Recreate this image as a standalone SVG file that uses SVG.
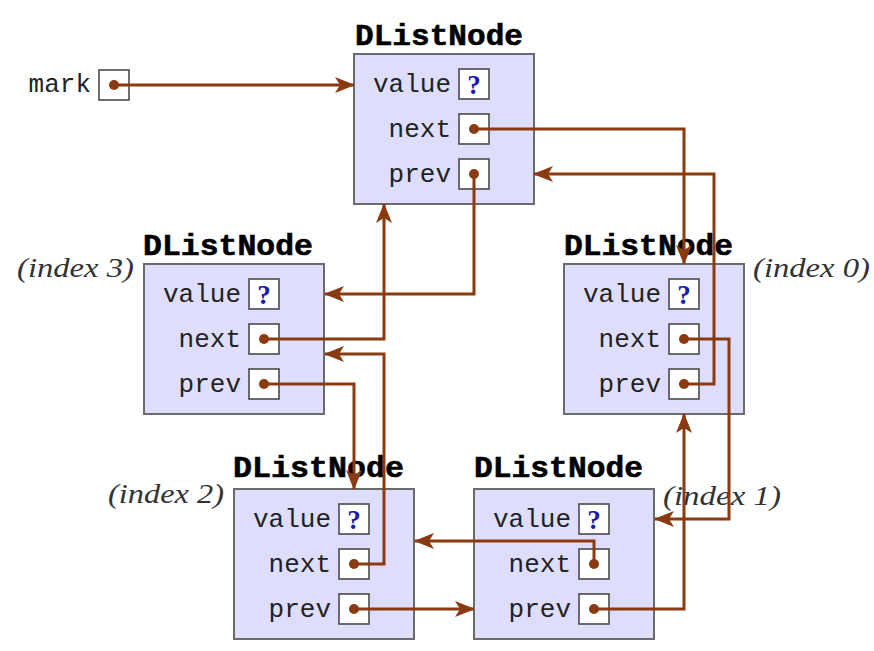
<svg xmlns="http://www.w3.org/2000/svg" width="874" height="651" viewBox="0 0 874 651">
  <style>
    .box { fill: #dedefc; stroke: #6b6b6b; stroke-width: 2; }
    .cell { fill: #ffffff; stroke: #4a4a4a; stroke-width: 1.6; }
    .title { font-family: "Liberation Mono", "DejaVu Sans Mono", monospace; font-weight: bold; font-size: 30px; fill: #000; stroke: #000; stroke-width: 0.6; }
    .field { font-family: "Liberation Mono", "DejaVu Sans Mono", monospace; font-size: 26px; fill: #222; text-anchor: end; }
    .q { font-family: "Liberation Serif", "DejaVu Serif", serif; font-weight: bold; font-size: 27px; fill: #1a1ab0; text-anchor: middle; }
    .idx { font-family: "Liberation Serif", "DejaVu Serif", serif; font-style: italic; font-size: 27px; fill: #333; }
    .dot { fill: #8a3a10; }
    .link { fill: none; stroke: #8a3a10; stroke-width: 3; stroke-linejoin: miter; marker-end: url(#head); }
  </style>
  <defs>
    <marker id="head" viewBox="0 0 20 16" refX="19" refY="8" markerWidth="20" markerHeight="16" markerUnits="userSpaceOnUse" orient="auto">
      <path d="M0,0 L20,8 L0,16 L5,8 Z" fill="#8a3a10"/>
    </marker>
    <!-- one list node: box with value / next / prev fields -->
    <g id="nodeBody">
      <rect class="box" x="0" y="0" width="180" height="150"/>
      <text class="field" x="97" y="38">value</text>
      <text class="field" x="97" y="83">next</text>
      <text class="field" x="97" y="128">prev</text>
      <rect class="cell" x="105" y="15" width="30" height="30"/>
      <rect class="cell" x="105" y="60" width="30" height="30"/>
      <rect class="cell" x="105" y="105" width="30" height="30"/>
      <text class="q" x="120" y="40">?</text>
      <circle class="dot" cx="120" cy="75" r="5"/>
      <circle class="dot" cx="120" cy="120" r="5"/>
    </g>
  </defs>

  <rect width="874" height="651" fill="#ffffff"/>

  <!-- mark reference -->
  <g id="mark">
    <text class="field" x="91" y="92">mark</text>
    <rect class="cell" x="99" y="70" width="30" height="30"/>
    <circle class="dot" cx="114" cy="85" r="5"/>
  </g>

  <g id="nodeTop">
    <text class="title" x="355" y="45" textLength="168" lengthAdjust="spacingAndGlyphs">DListNode</text>
    <use href="#nodeBody" x="354" y="54"/>
  </g>

  <g id="node3">
    <text class="title" x="143" y="255" textLength="170" lengthAdjust="spacingAndGlyphs">DListNode</text>
    <text class="idx" x="17" y="277" textLength="117" lengthAdjust="spacingAndGlyphs">(index 3)</text>
    <use href="#nodeBody" x="144" y="264"/>
  </g>

  <g id="node0">
    <text class="title" x="564" y="255" textLength="169" lengthAdjust="spacingAndGlyphs">DListNode</text>
    <text class="idx" x="753" y="277" textLength="117" lengthAdjust="spacingAndGlyphs">(index 0)</text>
    <use href="#nodeBody" x="564" y="264"/>
  </g>

  <g id="node2">
    <text class="title" x="233" y="477" textLength="171" lengthAdjust="spacingAndGlyphs">DListNode</text>
    <text class="idx" x="108" y="503" textLength="116" lengthAdjust="spacingAndGlyphs">(index 2)</text>
    <use href="#nodeBody" x="234" y="489"/>
  </g>

  <g id="node1">
    <text class="title" x="474" y="477" textLength="169" lengthAdjust="spacingAndGlyphs">DListNode</text>
    <text class="idx" x="663" y="505" textLength="118" lengthAdjust="spacingAndGlyphs">(index 1)</text>
    <use href="#nodeBody" x="474" y="489"/>
  </g>

  <!-- pointer links -->
  <g id="connectors">
    <path class="link" d="M114,85 H354"/>
    <path class="link" d="M474,129 H684 V264"/>
    <path class="link" d="M474,174 V294 H325"/>
    <path class="link" d="M264,339 H384 V204"/>
    <path class="link" d="M264,384 H354 V489"/>
    <path class="link" d="M684,339 H729 V519 H655"/>
    <path class="link" d="M684,384 H714 V174 H534"/>
    <path class="link" d="M354,564 H384 V354 H325"/>
    <path class="link" d="M354,609 H474"/>
    <path class="link" d="M594,564 V541 H415"/>
    <path class="link" d="M594,609 H684 V414"/>
  </g>
</svg>
